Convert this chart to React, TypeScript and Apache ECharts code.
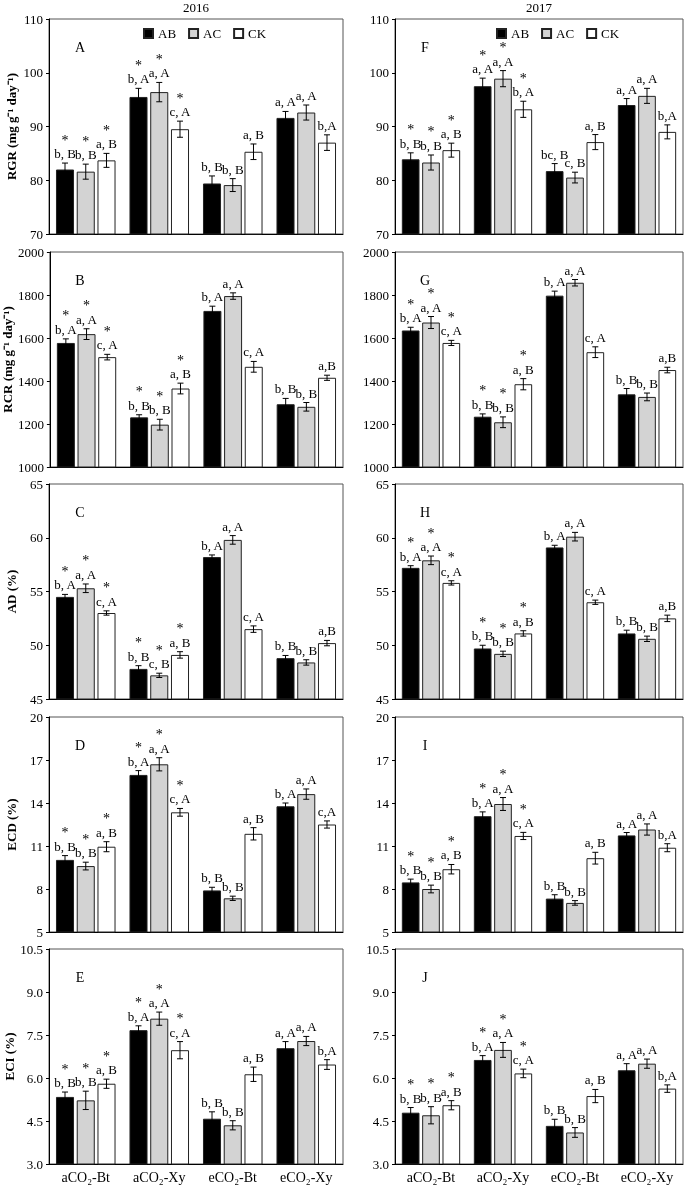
import React, { useEffect, useRef } from 'react';
import * as echarts from 'echarts';

const categories = ['aCO₂-Bt', 'aCO₂-Xy', 'eCO₂-Bt', 'eCO₂-Xy'];
const seriesNames = ['AB', 'AC', 'CK'];
const seriesColors = ['#000000', '#d3d3d3', '#ffffff'];
const starredCategories = [1, 1, 0, 0];

const rgrTicks = [70, 80, 90, 100, 110];
const rcrTicks = [1000, 1200, 1400, 1600, 1800, 2000];
const adTicks = [45, 50, 55, 60, 65];
const ecdTicks = [5, 8, 11, 14, 17, 20];
const eciTicks = [3, 4.5, 6, 7.5, 9, 10.5];

// A: RGR 2016
const rgr2016Mean = [[82.0, 95.5, 79.4, 91.6], [81.6, 96.4, 79.1, 92.6], [83.7, 89.5, 85.3, 87.0]];
const rgr2016Err = [[1.2, 1.6, 1.4, 1.2], [1.4, 1.8, 1.2, 1.4], [1.3, 1.5, 1.45, 1.45]];
const rgr2016Letters = [['b, B', 'b, A', 'b, B', 'a, A'], ['b, B', 'a, A', 'b, B', 'a, A'], ['a, B', 'c, A', 'a, B', 'b,A']];
// F: RGR 2017
const rgr2017Mean = [[83.9, 97.5, 81.7, 94.0], [83.3, 98.9, 80.5, 95.7], [85.6, 93.2, 87.1, 89.0]];
const rgr2017Err = [[1.2, 1.5, 1.4, 1.2], [1.4, 1.5, 1.0, 1.4], [1.3, 1.5, 1.4, 1.3]];
const rgr2017Letters = [['b, B', 'a, A', 'bc, B', 'a, A'], ['b, B', 'a, A', 'c, B', 'a, A'], ['a, B', 'b, A', 'a, B', 'b,A']];
// B: RCR 2016
const rcr2016Mean = [[1577, 1231, 1726, 1292], [1618, 1197, 1795, 1280], [1511, 1365, 1466, 1415]];
const rcr2016Err = [[19, 12, 22, 27], [25, 25, 15, 20], [13, 25, 25, 12]];
const rcr2016Letters = [['b, A', 'b, B', 'b, A', 'b, B'], ['a, A', 'b, B', 'a, A', 'b, B'], ['c, A', 'a, B', 'c, A', 'a,B']];
// G: RCR 2017
const rcr2017Mean = [[1635, 1234, 1797, 1338], [1672, 1208, 1857, 1326], [1577, 1385, 1534, 1451]];
const rcr2017Err = [[15, 13, 21, 27], [28, 25, 15, 18], [12, 26, 25, 13]];
const rcr2017Letters = [['b, A', 'b, B', 'b, A', 'b, B'], ['a, A', 'b, B', 'a, A', 'b, B'], ['c, A', 'a, B', 'c, A', 'a,B']];
// C: AD 2016
const ad2016Mean = [[54.5, 47.8, 58.2, 48.8], [55.3, 47.2, 59.8, 48.4], [53.0, 49.1, 51.5, 50.2]];
const ad2016Err = [[0.23, 0.3, 0.2, 0.25], [0.4, 0.2, 0.4, 0.25], [0.2, 0.3, 0.3, 0.25]];
const ad2016Letters = [['b, A', 'b, B', 'b, A', 'b, B'], ['a, A', 'c, B', 'a, A', 'b, B'], ['c, A', 'a, B', 'c, A', 'a,B']];
// H: AD 2017
const ad2017Mean = [[57.2, 49.7, 59.1, 51.1], [57.9, 49.2, 60.1, 50.6], [55.8, 51.1, 54.0, 52.5]];
const ad2017Err = [[0.2, 0.3, 0.2, 0.3], [0.4, 0.25, 0.4, 0.25], [0.2, 0.25, 0.2, 0.3]];
const ad2017Letters = [['b, A', 'b, B', 'b, A', 'b, B'], ['a, A', 'b, B', 'a, A', 'b, B'], ['c, A', 'a, B', 'c, A', 'a,B']];
// D: ECD 2016
const ecd2016Mean = [[10.03, 15.96, 7.9, 13.77], [9.6, 16.7, 7.35, 14.62], [10.95, 13.35, 11.85, 12.5]];
const ecd2016Err = [[0.3, 0.3, 0.22, 0.23], [0.27, 0.46, 0.15, 0.36], [0.35, 0.27, 0.43, 0.25]];
const ecd2016Letters = [['b, B', 'b, A', 'b, B', 'b, A'], ['b, B', 'a, A', 'b, B', 'a, A'], ['a, B', 'c, A', 'a, B', 'c,A']];
// I: ECD 2017
const ecd2017Mean = [[8.46, 13.08, 7.33, 11.74], [8.0, 13.93, 7.03, 12.15], [9.38, 11.7, 10.15, 10.88]];
const ecd2017Err = [[0.23, 0.3, 0.27, 0.2], [0.27, 0.45, 0.16, 0.39], [0.33, 0.25, 0.41, 0.28]];
const ecd2017Letters = [['b, B', 'b, A', 'b, B', 'a, A'], ['b, B', 'a, A', 'b, B', 'a, A'], ['a, B', 'c, A', 'a, B', 'b,A']];
// E: ECI 2016
const eci2016Mean = [[5.34, 7.67, 4.58, 7.04], [5.22, 8.07, 4.35, 7.29], [5.8, 6.97, 6.13, 6.47]];
const eci2016Err = [[0.17, 0.15, 0.24, 0.23], [0.32, 0.23, 0.16, 0.16], [0.16, 0.3, 0.25, 0.17]];
const eci2016Letters = [['b, B', 'b, A', 'b, B', 'a, A'], ['b, B', 'a, A', 'b, B', 'a, A'], ['a, B', 'c, A', 'a, B', 'b,A']];
// J: ECI 2017
const eci2017Mean = [[4.79, 6.63, 4.33, 6.27], [4.7, 6.98, 4.1, 6.5], [5.05, 6.16, 5.37, 5.63]];
const eci2017Err = [[0.18, 0.15, 0.23, 0.23], [0.3, 0.26, 0.17, 0.16], [0.16, 0.15, 0.23, 0.13]];
const eci2017Letters = [['b, B', 'b, A', 'b, B', 'a, A'], ['b, B', 'a, A', 'b, B', 'a, A'], ['a, B', 'c, A', 'a, B', 'b,A']];

const rowNames = ['RGR (mg g⁻¹ day⁻¹)', 'RCR (mg g⁻¹ day⁻¹)', 'AD (%)', 'ECD (%)', 'ECI (%)'];
const rowTicks = [rgrTicks, rcrTicks, adTicks, ecdTicks, eciTicks];
const years = ['2016', '2017'];

const panels = [
  { letter: 'A', row: 0, col: 0, mean: rgr2016Mean, err: rgr2016Err, letters: rgr2016Letters },
  { letter: 'F', row: 0, col: 1, mean: rgr2017Mean, err: rgr2017Err, letters: rgr2017Letters },
  { letter: 'B', row: 1, col: 0, mean: rcr2016Mean, err: rcr2016Err, letters: rcr2016Letters },
  { letter: 'G', row: 1, col: 1, mean: rcr2017Mean, err: rcr2017Err, letters: rcr2017Letters },
  { letter: 'C', row: 2, col: 0, mean: ad2016Mean, err: ad2016Err, letters: ad2016Letters },
  { letter: 'H', row: 2, col: 1, mean: ad2017Mean, err: ad2017Err, letters: ad2017Letters },
  { letter: 'D', row: 3, col: 0, mean: ecd2016Mean, err: ecd2016Err, letters: ecd2016Letters },
  { letter: 'I', row: 3, col: 1, mean: ecd2017Mean, err: ecd2017Err, letters: ecd2017Letters },
  { letter: 'E', row: 4, col: 0, mean: eci2016Mean, err: eci2016Err, letters: eci2016Letters },
  { letter: 'J', row: 4, col: 1, mean: eci2017Mean, err: eci2017Err, letters: eci2017Letters },
];

const FONT = '"Liberation Serif", "Times New Roman", serif';
const gridTops = [19, 252, 484, 717, 949];
const gridH = 215;
const colLeft = [49, 395];
const colWidth = [294, 288];
const CAT_GAP = 0.19;
const BAR_GAP = 0.15;

function textStyle(text: string, align: string, vAlign: string, size = 13) {
  return {
    text, fill: '#000', textFill: '#000', fontSize: size, fontFamily: FONT,
    textAlign: align, textVerticalAlign: vAlign, align, verticalAlign: vAlign,
  };
}

function buildOption() {
  const grid: any[] = [];
  const xAxis: any[] = [];
  const yAxis: any[] = [];
  const series: any[] = [];
  const graphic: any[] = [];

  panels.forEach((p, i) => {
    const ticks = rowTicks[p.row];
    grid.push({
      left: colLeft[p.col], top: gridTops[p.row], width: colWidth[p.col], height: gridH,
      show: true, borderColor: '#555', borderWidth: 1, backgroundColor: 'transparent',
    });
    xAxis.push({
      type: 'category', gridIndex: i, data: categories,
      axisLine: { show: true, lineStyle: { color: '#000', width: 1 } },
      axisTick: { show: false },
      axisLabel: p.row === 4
        ? { show: true, margin: 6, fontSize: 14, color: '#000', fontFamily: FONT }
        : { show: false },
      splitLine: { show: false },
    });
    yAxis.push({
      type: 'value', gridIndex: i, min: ticks[0], max: ticks[ticks.length - 1],
      name: p.col === 0 ? rowNames[p.row] : '',
      nameLocation: 'middle', nameGap: 31, nameRotate: 90,
      nameTextStyle: { fontFamily: FONT, fontWeight: 'bold', fontSize: 13, color: '#000' },
      axisLine: { show: true, lineStyle: { color: '#000', width: 1 } },
      axisTick: { show: true, length: 3, inside: false, customValues: ticks, lineStyle: { color: '#000' } },
      axisLabel: {
        show: true, margin: 6, fontSize: 13, color: '#000', fontFamily: FONT, customValues: ticks,
        formatter: (v: number) => (p.row === 4 ? v.toFixed(1) : String(v)),
      },
      splitLine: { show: false },
    });
    seriesNames.forEach((name, s) => {
      series.push({
        type: 'bar', name, xAxisIndex: i, yAxisIndex: i, data: p.mean[s],
        barCategoryGap: `${CAT_GAP * 100}%`, barGap: `${BAR_GAP * 100}%`,
        itemStyle: { color: seriesColors[s], borderColor: '#222', borderWidth: 1 },
        emphasis: { disabled: true },
      });
    });
    const errData: number[][] = [];
    for (let s = 0; s < 3; s++) {
      for (let c = 0; c < 4; c++) {
        errData.push([c, s, p.mean[s][c], p.err[s][c]]);
      }
    }
    series.push({
      type: 'custom', name: 'err' + i, xAxisIndex: i, yAxisIndex: i, z: 5,
      itemStyle: { color: '#000' },
      data: errData, encode: { x: 0, y: 2 }, silent: true,
      renderItem: (params: any, api: any) => {
        const c = api.value(0);
        const s = api.value(1);
        const v = api.value(2);
        const e = api.value(3);
        const bw = api.size([1, 0])[0];
        const barW = (bw * (1 - CAT_GAP)) / (3 + 2 * BAR_GAP);
        const off = (s - 1) * barW * (1 + BAR_GAP);
        const top = api.coord([c, v + e]);
        const bot = api.coord([c, v - e]);
        const x = top[0] + off;
        const cap = 3;
        const stroke = { stroke: '#000', lineWidth: 1, fill: 'none' };
        const children: any[] = [
          { type: 'line', shape: { x1: x, y1: top[1], x2: x, y2: bot[1] }, style: stroke },
          { type: 'line', shape: { x1: x - cap, y1: top[1], x2: x + cap, y2: top[1] }, style: stroke },
          { type: 'line', shape: { x1: x - cap, y1: bot[1], x2: x + cap, y2: bot[1] }, style: stroke },
        ];
        const labelY = top[1] - 3;
        children.push({ type: 'text', x, y: labelY, style: textStyle(p.letters[s][c], 'center', 'bottom', 13) });
        if (starredCategories[c]) {
          children.push({ type: 'text', x, y: labelY - 13, style: textStyle('*', 'center', 'bottom', 14) });
        }
        return { type: 'group', children };
      },
    });
    graphic.push({
      type: 'text',
      x: p.col === 0 ? 80 : 425,
      y: gridTops[p.row] + 28,
      style: textStyle(p.letter, 'center', 'middle', 14),
    });
  });

  years.forEach((y, col) => {
    graphic.push({
      type: 'text', x: colLeft[col] + colWidth[col] / 2, y: 7,
      style: textStyle(y, 'center', 'middle', 13),
    });
  });

  const legendBase = {
    data: seriesNames, top: 22, itemWidth: 9, itemHeight: 9, itemGap: 12, icon: 'rect',
    selectedMode: false, textStyle: { fontFamily: FONT, fontSize: 13, color: '#000' },
  };

  return {
    animation: false,
    grid, xAxis, yAxis, series, graphic,
    legend: [
      { ...legendBase, left: 138 },
      { ...legendBase, left: 491 },
    ],
  };
}

export default function App() {
  const ref = useRef<HTMLDivElement>(null);
  useEffect(() => {
    if (!ref.current) return;
    const chart = echarts.init(ref.current, undefined, { renderer: 'svg' });
    chart.setOption(buildOption() as any);
    return () => chart.dispose();
  }, []);
  return (
    <div
      ref={ref}
      style={{ position: 'fixed', left: 0, top: 0, width: 687, height: 1186, willChange: 'transform' }}
    />
  );
}
